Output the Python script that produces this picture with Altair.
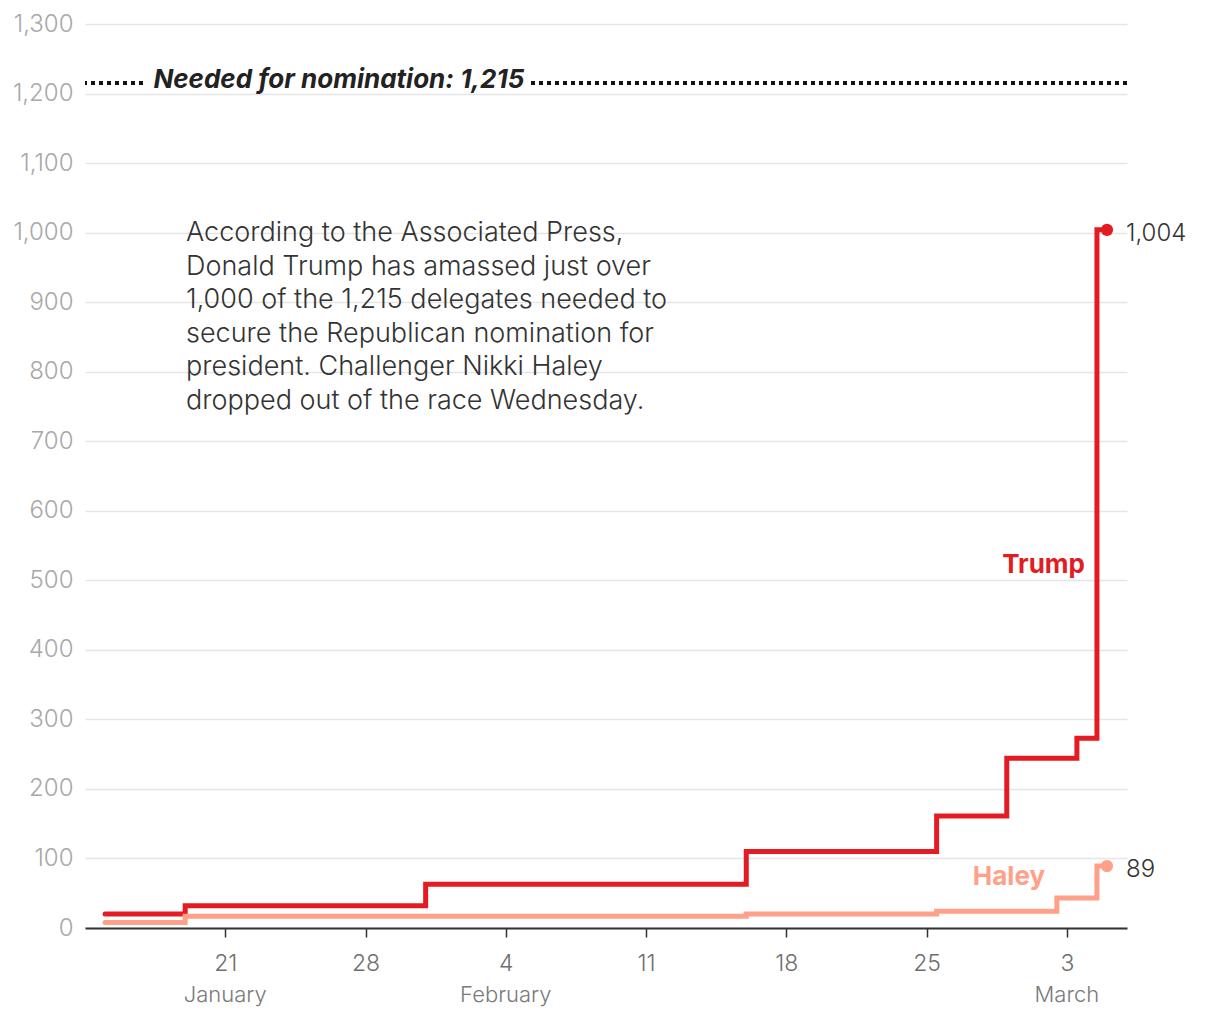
import altair as alt
import pandas as pd

# ---- data ----
dates = ["2024-01-15T00:00:00", "2024-01-23T00:00:00", "2024-02-08T00:00:00",
         "2024-02-24T00:00:00", "2024-02-27T00:00:00", "2024-03-02T00:00:00",
         "2024-03-03T00:00:00", "2024-03-04T00:00:00", "2024-03-05T00:00:00"]
trump = [20, 32, 63, 110, 161, 244, 244, 273, 1004]
haley = [8, 17, 17, 20, 24, 24, 43, 43, 89]
candidates = ["Trump", "Haley"]
colors = ["#e31c23", "#ffa088"]
needed = 1215
y_ticks = list(range(0, 1301, 100))
tick_dates = ["2024-01-21", "2024-01-28", "2024-02-04", "2024-02-11",
              "2024-02-18", "2024-02-25", "2024-03-03"]
month_dates = ["2024-01-21T00:00:00", "2024-02-04T00:00:00", "2024-03-03T00:00:00"]
month_names = ["January", "February", "March"]
note_lines = ["According to the Associated Press,",
              "Donald Trump has amassed just over",
              "1,000 of the 1,215 delegates needed to",
              "secure the Republican nomination for",
              "president. Challenger Nikki Haley",
              "dropped out of the race Wednesday."]

FONT = "Inter"

df = pd.DataFrame({
    "date": dates * 2,
    "candidate": ["Trump"] * len(dates) + ["Haley"] * len(dates),
    "delegates": trump + haley,
})
last = df[df["date"] == dates[-1]].copy()
last["label"] = last["delegates"].map(lambda v: f"{v:,}")


def dt(s):
    y, m, d = [int(p) for p in s.split("-")]
    return alt.DateTime(year=y, month=m, date=d)


W, H = 1042, 904
xscale = alt.Scale(domain=[dt("2024-01-14"), dt("2024-03-06")])
yscale = alt.Scale(domain=[0, 1300], nice=False)
color = alt.Color("candidate:N", scale=alt.Scale(domain=candidates, range=colors), legend=None)

x_axis = alt.Axis(values=[dt(s) for s in tick_dates], format="%-d", title=None,
                  labelFontSize=23, labelFontWeight=300, labelColor="#6f6f6f",
                  labelFont=FONT, tickColor="#333", tickSize=9, tickWidth=1.5,
                  domainColor="#333", domainWidth=1.8, labelPadding=15, grid=False)
y_axis = alt.Axis(values=y_ticks, format=",d", title=None, labelFontSize=24,
                  labelFontWeight=300, labelColor="#a8a8a8", labelFont=FONT,
                  domain=False, ticks=False,
                  labelPadding=12, grid=True, gridColor="#e5e5e5", gridWidth=1.5)


def X(field, t="T"):
    return alt.X(f"{field}:{t}", scale=xscale, axis=x_axis, title=None)


def Y(field):
    return alt.Y(f"{field}:Q", scale=yscale, axis=y_axis, title=None)


lines = alt.Chart(df).mark_line(interpolate="step", strokeWidth=5, strokeCap="round",
                                strokeJoin="miter").encode(
    x=X("date"), y=Y("delegates"), color=color, detail="candidate:N")

pts = alt.Chart(last).mark_circle(size=150, opacity=1).encode(
    x=X("date"), y=Y("delegates"), color=color)

end_labels = alt.Chart(last).mark_text(align="left", baseline="middle", dx=19, dy=4,
                                       fontSize=24, font=FONT, fontWeight=300,
                                       color="#333").encode(
    x=X("date"), y=Y("delegates"), text="label:N")

need_df = pd.DataFrame({"v": [needed]})
need_rule = alt.Chart(need_df).mark_rule(color="#111", strokeWidth=4,
                                         strokeDash=[4, 4]).encode(y=Y("v"))

mask_df = pd.DataFrame({"x1": ["2024-01-17T00:00:00"], "x2": ["2024-02-05T06:00:00"],
                        "y1": [needed - 9], "y2": [needed + 9]})
mask = alt.Chart(mask_df).mark_rect(color="white").encode(
    x=X("x1"), x2="x2:T", y=Y("y1"), y2="y2:Q")

need_txt_df = pd.DataFrame({"x": ["2024-01-17T10:00:00"], "y": [needed],
                            "t": [f"Needed for nomination: {needed:,}"]})
need_txt = alt.Chart(need_txt_df).mark_text(
    align="left", baseline="middle", fontSize=26, fontStyle="italic",
    fontWeight="bold", font=FONT, color="#222", dy=-3).encode(
    x=X("x"), y=Y("y"), text="t:N")

name_df = pd.DataFrame({
    "x": ["2024-03-05T00:00:00", "2024-03-05T00:00:00"],
    "y": [522, 73],
    "candidate": candidates,
})
trump_name = alt.Chart(name_df[name_df.candidate == "Trump"]).mark_text(
    align="right", baseline="middle", fontSize=26, fontWeight="bold", font=FONT,
    dx=-22).encode(x=X("x"), y=Y("y"), text="candidate:N", color=color)
haley_name = alt.Chart(name_df[name_df.candidate == "Haley"]).mark_text(
    align="center", baseline="middle", fontSize=26, fontWeight="bold", font=FONT,
    dx=-98).encode(x=X("x"), y=Y("y"), text="candidate:N", color=color)

note_df = pd.DataFrame({"x": ["2024-01-19T01:00:00"], "y": [1018], "t": [note_lines]})
note = alt.Chart(note_df).mark_text(
    align="left", baseline="top", fontSize=27, fontWeight=300, lineHeight=33.6, font=FONT,
    color="#333").encode(x=X("x"), y=Y("y"), text="t")

month_df = pd.DataFrame({"x": month_dates, "m": month_names})
months = alt.Chart(month_df).mark_text(
    align="center", baseline="middle", fontSize=22, fontWeight=300, font=FONT,
    color="#7a7a7a").encode(
    x=X("x"), y=alt.value(H + 67), text="m:N")

chart = alt.layer(
    lines, need_rule, mask, need_txt, pts, end_labels, trump_name, haley_name, note, months
).properties(
    width=W, height=H,
    autosize=alt.AutoSizeParams(type="none"),
    padding={"left": 77, "top": 16, "right": 80, "bottom": 90},
).configure(font=FONT).configure_view(stroke=None)

chart.save("out.html", embed_options={"renderer": "svg", "actions": False})
